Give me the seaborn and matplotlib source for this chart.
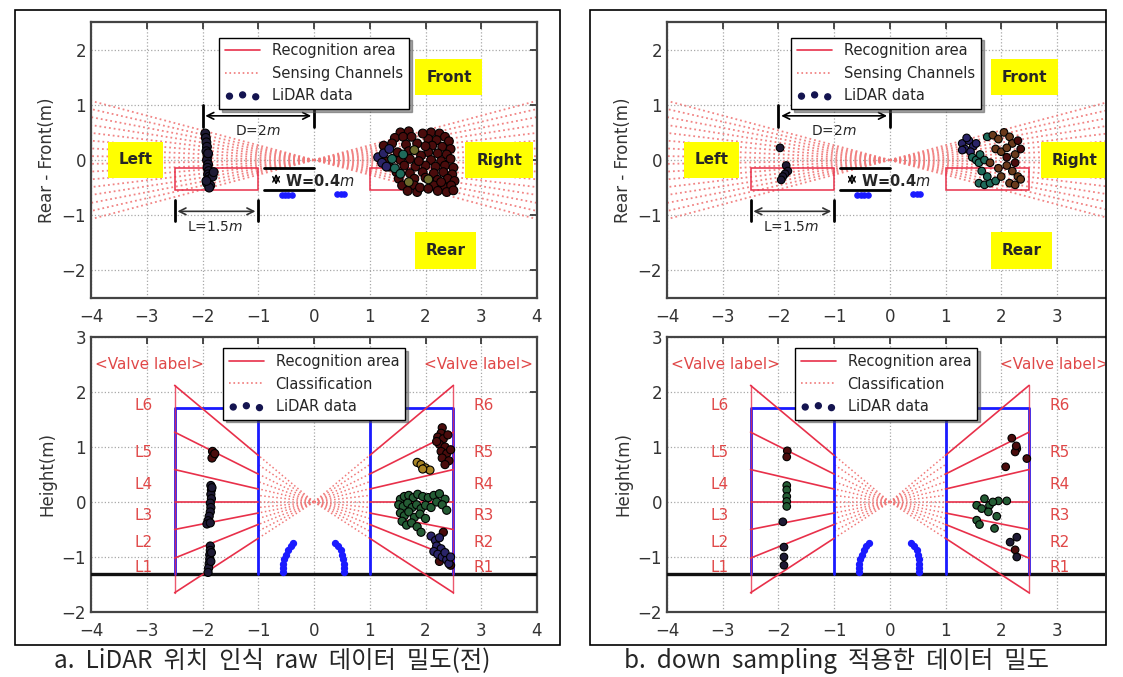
from __future__ import annotations

import matplotlib.pyplot as plt
import numpy as np
import pandas as pd
import seaborn as sns
from matplotlib.lines import Line2D
from matplotlib.patches import Rectangle

W, H = 1123, 677

# ---- data -----------------------------------------------------------------
channel_deg = [-15, -13, -11, -9, -7, -5, -3, -1, 1, 3, 5, 7, 9, 11, 13, 15]
valve_edge_y = [2.12, 1.27, 0.59, 0.0, -0.5, -1.02, -1.65]  # ray height at |x|=2.5
class_y = [0.85, 0.68, 0.51, 0.37, 0.24, 0.12, 0.0, -0.1, -0.2, -0.3, -0.41, -0.53, -0.66]
valve_names = ["1", "2", "3", "4", "5", "6"]
valve_label_y = [-1.19, -0.73, -0.25, 0.31, 0.9, 1.75]
ground_y = -1.3
box_top_y = 1.7

# blue LiDAR returns (fixed structure)
blue_top = [(-0.58, -0.63), (-0.52, -0.64), (-0.46, -0.64), (-0.40, -0.63),
            (0.42, -0.62), (0.48, -0.62), (0.54, -0.62)]
blue_side = [(-0.38, -0.75), (-0.42, -0.80), (-0.47, -0.88), (-0.50, -0.96),
             (-0.53, -1.04), (-0.55, -1.12), (-0.55, -1.20), (-0.55, -1.28),
             (0.38, -0.75), (0.43, -0.80), (0.48, -0.88), (0.50, -0.96),
             (0.52, -1.04), (0.53, -1.12), (0.53, -1.20), (0.53, -1.28)]

# a. raw data, top view
raw_top_left = [(-1.95, 0.48), (-1.94, 0.40), (-1.93, 0.32), (-1.92, 0.24), (-1.93, 0.16),
                (-1.91, 0.08), (-1.92, 0.00), (-1.90, -0.08), (-1.91, -0.14), (-1.89, -0.20),
                (-1.90, -0.26), (-1.88, -0.30), (-1.90, -0.36), (-1.92, -0.42), (-1.86, -0.46),
                (-1.82, -0.30), (-1.80, -0.22), (-1.88, -0.50), (-1.93, -0.38), (-1.90, 0.12)]
raw_top_maroon = [(1.55, 0.50), (1.70, 0.52), (2.10, 0.50), (2.25, 0.48), (2.35, 0.42),
                  (1.45, 0.40), (1.60, 0.42), (2.05, 0.38), (2.20, 0.36), (2.42, 0.34),
                  (1.25, 0.26), (1.65, 0.28), (2.12, 0.26), (2.30, 0.24), (2.45, 0.20),
                  (1.50, 0.14), (1.70, 0.16), (2.05, 0.14), (2.22, 0.12), (2.38, 0.10),
                  (1.28, -0.02), (1.55, 0.00), (1.72, 0.02), (2.10, 0.00), (2.28, -0.02),
                  (2.45, 0.02), (1.35, -0.12), (1.62, -0.10), (1.82, -0.12), (2.00, -0.10),
                  (2.18, -0.12), (2.35, -0.10), (2.50, -0.14), (1.48, -0.22), (1.72, -0.24),
                  (1.95, -0.22), (2.15, -0.24), (2.32, -0.22), (2.48, -0.26), (1.52, -0.34),
                  (1.80, -0.34), (2.00, -0.32), (2.22, -0.36), (2.40, -0.34), (2.52, -0.38),
                  (1.58, -0.46), (1.80, -0.46), (2.15, -0.46), (2.32, -0.48), (2.46, -0.46),
                  (1.68, -0.56), (1.85, -0.58), (2.22, -0.56), (2.38, -0.58), (2.50, -0.55),
                  (1.85, 0.30), (1.95, 0.48), (1.90, -0.50), (2.05, -0.52), (1.75, 0.42),
                  (1.40, 0.30), (1.92, 0.08), (2.00, 0.25), (1.88, -0.02), (2.28, -0.40)]
raw_top_navy = [(1.15, 0.05), (1.25, 0.12), (1.22, -0.05), (1.35, 0.20), (1.30, -0.12)]
raw_top_teal = [(1.40, 0.02), (1.45, -0.15), (1.55, -0.25), (1.60, 0.10)]
raw_top_olive = [(1.80, 0.18), (1.70, -0.40), (2.05, -0.35)]

# a. raw data, side view
raw_side_dark = [(-1.85, 0.30), (-1.84, 0.22), (-1.85, 0.14), (-1.84, 0.06), (-1.86, -0.02),
                 (-1.85, -0.10), (-1.86, -0.18), (-1.88, -0.26), (-1.90, -0.34), (-1.92, -0.40),
                 (-1.86, -0.38), (-1.83, 0.26), (-1.86, -0.80), (-1.86, -0.88), (-1.87, -0.96),
                 (-1.87, -1.04), (-1.88, -1.12), (-1.89, -1.20), (-1.90, -1.28), (-1.84, -0.92),
                 (-1.85, -1.08)]
raw_side_maroon = [(-1.82, 0.92), (-1.80, 0.85), (-1.83, 0.80), (-1.78, 0.88),
                   (2.30, 1.35), (2.28, 1.25), (2.22, 1.18), (2.32, 1.15), (2.25, 1.05),
                   (2.35, 1.00), (2.28, 0.92), (2.38, 0.88), (2.30, 0.80), (2.42, 0.75),
                   (2.35, 0.68), (2.20, 1.10), (2.40, 1.22), (2.45, 0.95),
                   (2.32, -0.55), (2.45, -1.15), (2.25, -1.08)]
raw_side_orange = [(1.85, 0.72), (1.92, 0.68), (2.00, 0.62), (2.08, 0.58), (1.95, 0.60)]
raw_side_green = [(1.55, 0.05), (1.62, 0.10), (1.70, 0.12), (1.78, 0.08), (1.86, 0.14),
                  (1.95, 0.10), (2.05, 0.08), (2.15, 0.12), (2.25, 0.15), (2.35, 0.05),
                  (1.52, -0.05), (1.60, -0.08), (1.68, -0.02), (1.76, -0.10), (1.84, -0.05),
                  (1.92, -0.12), (2.00, -0.06), (2.10, -0.10), (2.20, 0.00), (2.30, -0.05),
                  (2.38, -0.15), (1.55, -0.20), (1.62, -0.25), (1.70, -0.18), (1.80, -0.28),
                  (1.90, -0.22), (2.00, -0.30), (1.58, -0.35), (1.66, -0.42), (1.75, -0.38),
                  (1.85, -0.45), (1.92, -0.55)]
raw_side_navy = [(2.10, -0.62), (2.18, -0.70), (2.25, -0.65), (2.20, -0.80), (2.28, -0.85),
                 (2.15, -0.90), (2.22, -0.95), (2.30, -1.00), (2.38, -1.05), (2.42, -1.12),
                 (2.35, -0.92), (2.45, -1.00)]

# b. down-sampled data, top view
ds_top_dark = [(-1.97, 0.22), (-1.86, -0.10), (-1.83, -0.20), (-1.88, -0.25),
               (-1.92, -0.30), (-1.95, -0.36)]
ds_top_navy = [(1.30, 0.30), (1.35, 0.20), (1.42, 0.35), (1.50, 0.25), (1.45, 0.15),
               (1.55, 0.30), (1.30, 0.18), (1.38, 0.40)]
ds_top_teal = [(1.48, 0.05), (1.55, 0.00), (1.62, 0.10), (1.60, -0.05), (1.70, 0.00),
               (1.75, 0.42), (1.60, -0.42), (1.70, -0.45), (1.80, -0.42), (1.90, -0.38),
               (1.75, -0.30), (1.65, -0.20)]
ds_top_brown = [(1.85, 0.45), (1.95, 0.38), (2.05, 0.50), (2.15, 0.42), (2.20, 0.30),
                (1.90, 0.20), (2.00, 0.15), (2.10, 0.22), (2.25, 0.10), (1.80, -0.05),
                (1.95, -0.15), (2.10, -0.10), (2.20, -0.20), (2.30, -0.30), (2.15, -0.42),
                (2.25, -0.45), (2.35, -0.35), (2.00, -0.30)]
ds_top_maroon = [(2.30, 0.35), (2.10, 0.05), (2.25, -0.05), (2.35, 0.20)]

# b. down-sampled data, side view
ds_side_maroon = [(-1.84, 0.93), (-1.85, 0.82), (2.19, 1.16), (2.28, 0.97), (2.25, 0.91),
                  (2.27, 1.02), (2.46, 0.79), (2.08, 0.64), (2.25, -0.87)]
ds_side_green = [(-1.85, 0.30), (-1.85, 0.22), (-1.85, 0.10), (-1.85, 0.01), (-1.85, -0.08),
                 (1.70, 0.06), (1.56, -0.06), (1.79, -0.06), (1.95, 0.02), (2.10, 0.02),
                 (1.65, -0.12), (1.77, -0.18), (1.92, -0.26), (1.56, -0.33), (1.61, -0.41),
                 (1.88, -0.48), (1.85, 0.00)]
ds_side_dark = [(-1.92, -0.36), (-1.90, -0.82), (-1.90, -1.00), (-1.90, -1.15),
                (2.28, -0.64), (2.16, -0.73), (2.28, -1.00)]

TONES = {
    "dark": "#1e1a34",
    "navy": "#2a2468",
    "teal": "#1f6a5a",
    "green": "#245c34",
    "olive": "#6d6a2c",
    "orange": "#a88424",
    "brown": "#6a3a1c",
    "maroon": "#4a0c0c",
}
RED = "#e8304a"
PINK = "#f07878"
BLUE = "#1a1aff"


def to_frame(groups: dict[str, list]) -> pd.DataFrame:
    rows = [(x, y, tone) for tone, pts in groups.items() for x, y in pts]
    return pd.DataFrame(rows, columns=["x", "y", "tone"])


def px_rect(left, top, right, bottom) -> list[float]:
    return [left / W, 1 - bottom / H, (right - left) / W, (bottom - top) / H]


def style_axes(ax, xmax: float, ylim: tuple, yticks, clip_right: bool) -> None:
    ax.set_xticks([t for t in range(-4, 5) if t <= xmax + 1e-9])
    ax.set_yticks(yticks)
    ax.set_xlim(-4, xmax)
    ax.set_ylim(*ylim)
    ax.grid(True, linestyle=":", color="#a8a8a8", lw=0.9)
    ax.tick_params(direction="in", top=True, right=not clip_right, length=5,
                   labelsize=12, colors="#333333")
    ax.tick_params(axis="x", pad=7)
    for sp in ax.spines.values():
        sp.set_color("#444444")
        sp.set_linewidth(1.6)
    if clip_right:
        ax.spines["right"].set_visible(False)
    ax.set_axisbelow(True)


def scatter(ax, df: pd.DataFrame, size: float) -> None:
    sns.scatterplot(data=df, x="x", y="y", hue="tone", palette=TONES, s=size,
                    edgecolor="black", linewidth=0.8, legend=False, ax=ax, zorder=4)


def make_legend(ax, labels, anchor_y) -> None:
    handles = [
        Line2D([], [], color=RED, lw=1.2),
        Line2D([], [], color=PINK, lw=1.2, ls=":"),
        ax.scatter([], [], s=18, color="#141450"),
    ]
    leg = ax.legend(handles, labels, loc="upper center", bbox_to_anchor=(0.5, anchor_y),
                    fontsize=10.5, frameon=True, fancybox=False, shadow=True,
                    edgecolor="black", framealpha=1, scatterpoints=3, handlelength=2.4)
    leg.set_zorder(10)


def draw_top(ax, groups, size) -> None:
    for deg in channel_deg:
        slope = np.tan(np.radians(deg))
        for sign in (-1, 1):
            ax.plot([0, sign * 4.3], [0, sign * 4.3 * slope], color=PINK, lw=1.3,
                    ls=":", alpha=0.9, zorder=2)
    for x0 in (-2.5, 1.0):
        ax.add_patch(Rectangle((x0, -0.55), 1.5, 0.4, fill=False, ec=RED, lw=1.1, zorder=3))

    # dimension marks
    ax.plot([-2, -2], [0.6, 1.0], color="black", lw=2)
    ax.plot([0, 0], [0.6, 1.0], color="black", lw=2)
    ax.annotate("", xy=(0, 0.8), xytext=(-2, 0.8),
                arrowprops=dict(arrowstyle="<->", color="black", lw=1.2))
    ax.text(-1, 0.52, "D=2$m$", ha="center", va="center", fontsize=10)
    ax.plot([-0.9, 0], [-0.15, -0.15], color="black", lw=2, zorder=5)
    ax.plot([-0.9, 0], [-0.55, -0.55], color="black", lw=2, zorder=5)
    ax.annotate("", xy=(-0.68, -0.2), xytext=(-0.68, -0.5),
                arrowprops=dict(arrowstyle="<->", color="black", lw=1.0))
    ax.text(0.1, -0.38, "W=0.4$m$", ha="center", va="center", fontsize=10.5,
            fontweight="bold", zorder=6)
    ax.plot([-2.5, -2.5], [-0.72, -1.1], color="black", lw=2)
    ax.plot([-1, -1], [-0.72, -1.1], color="black", lw=2)
    ax.annotate("", xy=(-1, -0.93), xytext=(-2.5, -0.93),
                arrowprops=dict(arrowstyle="<->", color="#333333", lw=1.2))
    ax.text(-1.78, -1.22, "L=1.5$m$", ha="center", va="center", fontsize=10)

    for label, (x, y) in {"Front": (2.42, 1.5), "Right": (3.32, 0.0),
                          "Left": (-3.2, 0.0), "Rear": (2.36, -1.64)}.items():
        ax.text(x, y, label, ha="center", va="center", fontsize=11, fontweight="bold",
                clip_on=True, zorder=5,
                bbox=dict(boxstyle="square,pad=0.7", fc="#ffff00", ec="none"))

    bx, by = zip(*blue_top)
    ax.scatter(bx, by, s=14, color=BLUE, zorder=4)
    scatter(ax, to_frame(groups), size)
    ax.set_xlabel("")
    ax.set_ylabel("Rear - Front(m)", fontsize=12, color="#333333")
    make_legend(ax, ["Recognition area", "Sensing Channels", "LiDAR data"], 0.97)


def draw_side(ax, groups, size) -> None:
    ax.axhline(ground_y, color="#111111", lw=2.4, zorder=3)
    for sign in (-1, 1):
        ax.plot([sign * 2.5, sign * 2.5, sign * 1, sign * 1],
                [ground_y, box_top_y, box_top_y, ground_y], color=BLUE, lw=2, zorder=3)
        for y in valve_edge_y:
            ax.plot([sign * 1, sign * 2.5], [0.4 * y, y], color=RED, lw=1.2, zorder=3)
        ax.plot([sign * 2.5, sign * 2.5], [min(valve_edge_y), max(valve_edge_y)],
                color=RED, lw=1.0, zorder=3, alpha=0.8)
        for y in class_y:
            ax.plot([0, sign * 1], [0, y], color=PINK, lw=1.1, ls=":", zorder=2)
        prefix = "L" if sign < 0 else "R"
        for name, y in zip(valve_names, valve_label_y):
            ax.text(sign * 3.05, y, prefix + name, color="#e04848", fontsize=11,
                    ha="center", va="center")
        ax.text(sign * 2.95, 2.5, "<Valve label>", color="#e04848", fontsize=11,
                ha="center", va="center", clip_on=True)

    bx, by = zip(*blue_side)
    ax.scatter(bx, by, s=18, color=BLUE, zorder=4)
    scatter(ax, to_frame(groups), size)
    ax.set_xlabel("")
    ax.set_ylabel("Height(m)", fontsize=12, color="#333333")
    make_legend(ax, ["Recognition area", "Classification", "LiDAR data"], 0.985)


def main() -> None:
    sns.set_theme(style="white")
    plt.rcParams["font.family"] = ["DejaVu Sans", "Noto Sans CJK KR"]
    plt.rcParams["axes.unicode_minus"] = True

    fig = plt.figure(figsize=(W / 100, H / 100), dpi=100)

    # panel frames
    for left, right in ((15, 560), (590, 1106)):
        fig.add_artist(Rectangle((left / W, 1 - 645 / H), (right - left) / W, 635 / H,
                                 transform=fig.transFigure, fill=False, ec="black", lw=1.2))

    right_xmax = -4 + (1105 - 667) / 55.7

    ax = fig.add_axes(px_rect(91, 22, 537, 298))
    style_axes(ax, 4, (-2.5, 2.5), range(-2, 3), clip_right=False)
    draw_top(ax, {"dark": raw_top_left, "maroon": raw_top_maroon, "navy": raw_top_navy,
                  "teal": raw_top_teal, "olive": raw_top_olive}, 40)

    ax = fig.add_axes(px_rect(91, 337, 537, 612))
    style_axes(ax, 4, (-2, 3), range(-2, 4), clip_right=False)
    draw_side(ax, {"dark": raw_side_dark, "maroon": raw_side_maroon,
                   "orange": raw_side_orange, "green": raw_side_green,
                   "navy": raw_side_navy}, 34)

    ax = fig.add_axes(px_rect(667, 22, 1105, 298))
    style_axes(ax, right_xmax, (-2.5, 2.5), range(-2, 3), clip_right=True)
    draw_top(ax, {"dark": ds_top_dark, "navy": ds_top_navy, "teal": ds_top_teal,
                  "brown": ds_top_brown, "maroon": ds_top_maroon}, 30)

    ax = fig.add_axes(px_rect(667, 337, 1105, 612))
    style_axes(ax, right_xmax, (-2, 3), range(-2, 4), clip_right=True)
    draw_side(ax, {"maroon": ds_side_maroon, "green": ds_side_green,
                   "dark": ds_side_dark}, 30)

    cap_font = ["Noto Sans CJK KR", "DejaVu Sans"]
    fig.text(272 / W, 1 - 661 / H, "a.  LiDAR  위치  인식  raw  데이터  밀도(전)",
             ha="center", va="center", fontsize=17.5, family=cap_font)
    fig.text(836 / W, 1 - 661 / H, "b.  down  sampling  적용한  데이터  밀도",
             ha="center", va="center", fontsize=17.5, family=cap_font)

    fig.savefig("out.png", dpi=100)


if __name__ == "__main__":
    main()
